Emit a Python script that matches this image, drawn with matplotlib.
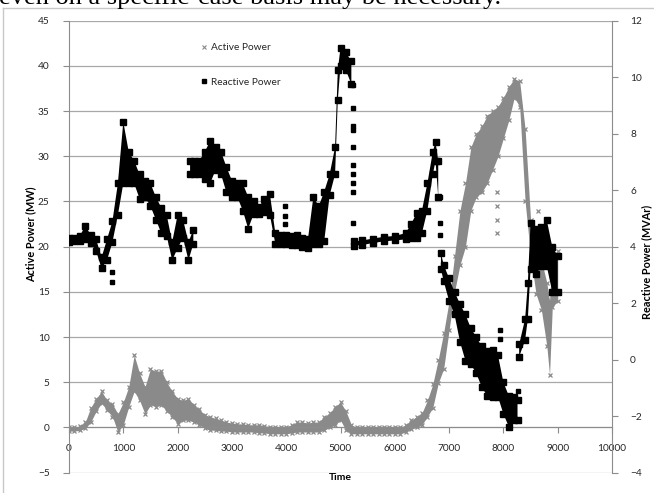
import numpy as np
import matplotlib
matplotlib.use("Agg")
import matplotlib.pyplot as plt
from matplotlib.lines import Line2D

nan = np.nan

# ---------------- data ----------------
active_time = [0, 100, 200, 300, 400, 500, 600, 700, 800, 900,
               1000, 1100, 1200, 1300, 1400, 1500, 1600, 1700, 1800, 1900,
               2000, 2100, 2200, 2300, 2400, 2500, 2600, 2700, 2800, 2900,
               3000, 3100, 3200, 3300, 3400, 3500, 3600, 3700, 3800, 3900,
               4000, 4100, 4200, 4300, 4400, 4500, 4600, 4700, 4800, 4900,
               5000, 5100, 5200, 5300, 5400, 5500, 5600, 5700, 5800, 5900,
               6000, 6100, 6200, 6300, 6400, 6500, 6600, 6700, 6800, 6900,
               7000, 7100, 7200, 7300, 7400, 7500, 7600, 7700, 7800, 7900,
               8000, 8100, 8200, 8300, 8400, 8500, 8600, 8700, 8800, 8850,
               8900, 9000]
active_low = [-0.4, -0.4, -0.3, -0.1, 0.6, 1.8, 2.7, 1.9, 1.2, -0.5,
              0.3, 2.3, 4.0, 3.0, 1.5, 2.5, 2.3, 2.5, 1.8, 1.2,
              0.4, 0.8, 0.8, 0.6, 0.3, -0.1, -0.3, -0.3, -0.4, -0.4,
              -0.5, -0.5, -0.5, -0.5, -0.5, -0.6, -0.6, -0.7, -0.7, -0.7,
              -0.7, -0.6, -0.5, -0.5, -0.5, -0.5, -0.5, -0.3, 0.0, 0.3,
              0.8, -0.3, -0.7, -0.7, -0.7, -0.7, -0.7, -0.7, -0.7, -0.7,
              -0.7, -0.7, -0.5, -0.2, 0.0, 0.3, 1.2, 2.2, 4.9, 6.5,
              10.8, 15.0, 18.0, 20.0, 24.0, 25.5, 26.0, 27.0, 28.5, 30.0,
              32.0, 34.0, 36.5, 35.5, 25.0, 19.0, 14.8, 13.0, 9.0, 5.8,
              13.3, 14.0]
active_high = [0.0, 0.0, 0.2, 0.6, 2.2, 3.2, 4.0, 3.0, 2.6, 1.5,
               2.8, 4.5, 8.0, 6.0, 4.5, 6.5, 6.2, 6.3, 5.0, 4.0,
               3.2, 3.0, 3.2, 2.5, 2.0, 1.4, 1.2, 1.0, 0.8, 0.6,
               0.5, 0.4, 0.4, 0.3, 0.3, 0.3, 0.2, 0.1, 0.1, 0.1,
               0.1, 0.3, 0.6, 0.6, 0.5, 0.6, 0.6, 1.2, 1.6, 2.3,
               2.8, 1.8, 0.3, 0.0, 0.0, 0.0, 0.0, 0.0, 0.0, 0.0,
               0.0, 0.0, 0.3, 0.8, 1.2, 1.6, 3.0, 4.8, 7.5, 10.5,
               14.0, 19.0, 24.0, 27.0, 31.0, 32.5, 33.3, 34.5, 35.0, 35.5,
               36.5, 37.7, 38.6, 38.3, 33.0, 23.0, 19.2, 18.5, 16.0, 14.0,
               19.0, 19.5]
active_extra_time = [7880, 7880, 7880, 7880, 8640]
active_extra_value = [21.5, 23.0, 24.5, 26.0, 24.0]

# Reactive power (MVAr); NaN rows separate the jumps between segments
reactive_time = [0, 100, 200, 300, 400, 500, 600, 700, 800, 900,
                 1000, 1100, 1200, 1300, 1400, 1500, 1600, 1700, 1800, 1900,
                 2000, 2100, 2200, 2290, nan,
                 2230, 2300, 2400, 2500, 2600, 2700, 2800, 2900, 3000, 3100,
                 3200, 3300, 3400, 3500, 3600, 3700, 3800, 3900, 4000, 4100,
                 4200, 4300, 4400, 4500, 4600, 4700, 4800, 4900, 4950, 5000,
                 5100, 5200, nan,
                 5250, 5400, 5600, 5800, 6000, 6200, 6300, 6400, 6500, 6600,
                 6700, 6750, 6800, nan,
                 6850, 6900, 7000, 7100, 7200, 7300, 7400, 7500, 7600, 7700,
                 7800, 7900, 8000, 8100, 8200, 8260, nan,
                 8290, 8400, 8450, 8500, 8600, 8700, 8800, 8900, 9000]
reactive_low = [4.16, 4.19, 4.19, 4.26, 4.13, 3.84, 3.23, 3.52, 4.16, 5.12,
                6.24, 6.24, 6.24, 5.70, 5.76, 5.44, 4.96, 4.48, 4.38, 3.52,
                3.94, 4.32, 3.52, 4.10, nan,
                6.56, 6.56, 6.56, 6.40, 6.24, 6.72, 6.56, 5.92, 5.76, 5.76,
                5.28, 4.64, 5.15, 5.15, 5.22, 5.12, 4.10, 4.10, 4.10, 4.06,
                4.06, 4.00, 3.94, 4.10, 4.10, 4.19, 5.82, 6.56, 9.18, 10.40,
                10.24, 9.76, nan,
                4.03, 4.06, 4.13, 4.19, 4.22, 4.26, 4.32, 4.32, 4.48, 5.28,
                6.56, 7.04, 5.76, nan,
                3.20, 2.78, 2.08, 1.60, 0.64, -0.03, -0.16, -0.48, -0.96, -1.28,
                -1.31, -1.31, -1.92, -2.37, -2.14, -2.14, nan,
                0.10, 0.70, 1.44, 3.20, 3.04, 3.30, 3.30, 2.40, 2.40]
reactive_high = [4.32, 4.32, 4.38, 4.74, 4.42, 4.26, 3.62, 4.26, 4.90, 6.24,
                 8.42, 7.36, 7.04, 6.56, 6.34, 6.24, 5.76, 5.38, 5.12, 4.16,
                 5.12, 4.96, 4.16, 4.60, nan,
                 7.04, 7.04, 7.04, 7.36, 7.74, 7.52, 7.36, 6.82, 6.34, 6.24,
                 6.24, 5.76, 5.63, 5.41, 5.70, 5.86, 4.48, 4.42, 4.42, 4.38,
                 4.42, 4.32, 4.26, 5.76, 5.44, 5.95, 6.56, 7.52, 10.24, 11.04,
                 10.88, 10.56, nan,
                 4.19, 4.22, 4.29, 4.35, 4.38, 4.48, 4.80, 5.18, 5.28, 6.24,
                 7.36, 7.71, 7.04, nan,
                 3.78, 3.36, 2.88, 2.40, 1.98, 1.60, 1.12, 0.80, 0.48, 0.32,
                 0.35, 0.16, -0.80, -1.28, -1.31, -1.44, nan,
                 0.54, 1.44, 2.72, 4.83, 4.64, 4.70, 4.93, 4.00, 3.68]
reactive_extra_time = [800, 800, 3980, 3980, 3980, 5225, 5225, 5225, 5225, 5225,
                       5225, 5225, 5225, 5225, 5225, 6840, 6840, 6840, 7940, 7940,
                       8270]
reactive_extra_value = [2.75, 3.10, 4.80, 5.10, 5.44, 9.73, 8.90, 8.26, 8.13, 7.52,
                        6.88, 6.56, 6.24, 5.92, 4.83, 5.76, 4.83, 4.42, 0.75, 1.06,
                        -1.10]

x_ticks = list(range(0, 10001, 1000))
left_ticks = list(range(-5, 46, 5))
right_ticks = list(range(-4, 13, 2))

series_names = ["Active Power", "Reactive Power"]
x_label = "Time"
left_label = "Active Power (MW)"
right_label = "Reactive Power (MVAr)"
page_text = "even on a specific-case basis may be necessary."

# ---------------- drawing ----------------
W, H = 654, 493
fig = plt.figure(figsize=(W / 100, H / 100), dpi=100)
plt.rcParams['font.family'] = ['Lato', 'DejaVu Sans']

def fx(px):
    return px / W

def fy(py):
    return 1 - py / H

# page text (cut at the top) and chart-area border
fig.text(fx(-1), fy(4), page_text, family='Liberation Serif', fontsize=19,
         ha='left', va='baseline', color='black')
fig.add_artist(Line2D([fx(3), fx(3)], [fy(8), fy(492)], color='#c8c8c8', lw=1.0))
fig.add_artist(Line2D([fx(3), fx(660)], [fy(8), fy(8)], color='#c8c8c8', lw=1.0))

left, right, top, bottom = 69, 612, 20.7, 472.7
ax = fig.add_axes([fx(left), fy(bottom), fx(right - left), (bottom - top) / H])
ax.set_xlim(0, 10000)
ax.set_ylim(-5, 45)
ax.set_facecolor('none')

grid_color = '#a8a8a8'
axis_color = '#8c8c8c'
tick_color = '#262626'

ax.set_yticks(left_ticks)
ax.set_xticks(x_ticks)
ax.yaxis.grid(True, color=grid_color, lw=0.9)
ax.set_axisbelow(True)
for s in ['top', 'right']:
    ax.spines[s].set_visible(False)
ax.spines['left'].set_color(axis_color)
ax.spines['bottom'].set_position(('data', 0))
ax.spines['bottom'].set_color(axis_color)
ax.tick_params(axis='y', direction='out', length=4, color=axis_color,
               labelsize=7.3, labelcolor=tick_color, pad=10)
ax.tick_params(axis='x', direction='out', length=4, color=axis_color,
               labelsize=7.3, labelcolor=tick_color, pad=8)

gray = '#8a8a8a'
at = np.array(active_time, float)
al = np.array(active_low, float)
ah = np.array(active_high, float)
ax.fill_between(at, al, ah, color=gray, lw=0, zorder=2)
ax.plot(at, al, ls='none', marker='x', ms=3.5, mew=0.9, color=gray, zorder=2)
ax.plot(at, ah, ls='none', marker='x', ms=3.5, mew=0.9, color=gray, zorder=2)
ax.plot(active_extra_time, active_extra_value, ls='none', marker='x', ms=3.5,
        mew=0.9, color=gray, zorder=2)

ax2 = ax.twinx()
ax2.set_ylim(-4, 12)
ax2.set_yticks(right_ticks)
for s in ['top', 'left', 'bottom']:
    ax2.spines[s].set_visible(False)
ax2.spines['right'].set_color(axis_color)
ax2.tick_params(axis='y', direction='out', length=4, color=axis_color,
                labelsize=7.3, labelcolor=tick_color, pad=9)

rt = np.array(reactive_time, float)
rl = np.array(reactive_low, float)
rh = np.array(reactive_high, float)
ax2.fill_between(rt, rl, rh, color='black', lw=0, zorder=3)
ax2.plot(rt, rl, ls='none', marker='s', ms=4, color='black', zorder=3)
ax2.plot(rt, rh, ls='none', marker='s', ms=4, color='black', zorder=3)
ax2.plot(reactive_extra_time, reactive_extra_value, ls='none', marker='s',
         ms=3.5, color='black', zorder=3)

# legend
handles = [Line2D([], [], ls='none', marker='x', ms=3.5, mew=0.8, color=gray),
           Line2D([], [], ls='none', marker='s', ms=3.5, color='black')]
fig.legend(handles, series_names, loc='upper left',
           bbox_to_anchor=(fx(195), fy(38)), frameon=False, fontsize=7.3,
           handlelength=0.8, handletextpad=0.3, labelspacing=2.5,
           borderpad=0, labelcolor=tick_color)

# axis titles
fig.text(fx(340), fy(478), x_label, fontsize=7.5, fontweight='bold',
         ha='center', va='center', color='black')
fig.text(fx(31), fy(234), left_label, fontsize=7.8, fontweight='bold',
         rotation=90, ha='center', va='center', color='black')
fig.text(fx(647), fy(262), right_label, fontsize=7.8, fontweight='bold',
         rotation=90, ha='center', va='center', color='black')

fig.savefig('out.png', dpi=100)
